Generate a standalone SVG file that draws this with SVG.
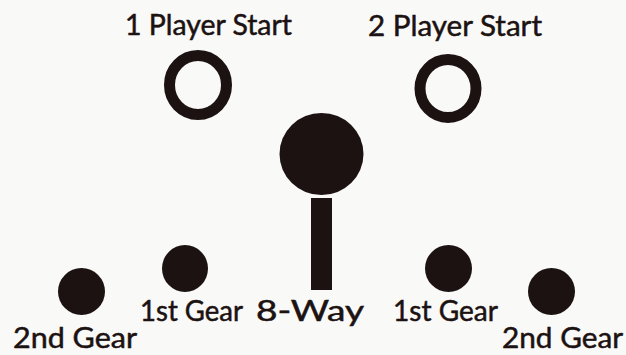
<svg xmlns="http://www.w3.org/2000/svg" width="626" height="355" viewBox="0 0 626 355">
<style>
.lbl{font-family:Lato,"Open Sans","Liberation Sans",sans-serif;font-size:28px;fill:#1c1212;stroke:#1c1212;stroke-width:0.5}
.ring{fill:none;stroke:#1c1212;stroke-width:11}
.dot{fill:#1c1212}
</style>
<rect width="626" height="355" fill="#f9f9f8"/>
<g id="connectors"/>
<g id="p1start">
<ellipse class="ring" cx="198" cy="85" rx="28.5" ry="29.5"/>
<text class="lbl" x="125" y="35" textLength="167" lengthAdjust="spacingAndGlyphs" style="font-size:29px">1 Player Start</text>
</g>
<g id="p2start">
<ellipse class="ring" cx="448" cy="88.5" rx="28" ry="29"/>
<text class="lbl" x="368" y="36" textLength="174" lengthAdjust="spacingAndGlyphs" style="font-size:29px">2 Player Start</text>
</g>
<g id="joystick">
<ellipse class="dot" cx="321.5" cy="154" rx="42" ry="41"/>
<rect class="dot" x="311" y="198" width="21" height="92"/>
<text class="lbl" x="256" y="321" textLength="108" lengthAdjust="spacingAndGlyphs">8-Way</text>
</g>
<g id="gear1-left">
<ellipse class="dot" cx="185" cy="268.5" rx="23" ry="23.5"/>
<text class="lbl" x="140" y="321" textLength="103" lengthAdjust="spacingAndGlyphs">1st Gear</text>
</g>
<g id="gear2-left">
<ellipse class="dot" cx="81.5" cy="291.5" rx="23.5" ry="23.5"/>
<text class="lbl" x="13" y="348" textLength="124" lengthAdjust="spacingAndGlyphs">2nd Gear</text>
</g>
<g id="gear1-right">
<ellipse class="dot" cx="448.5" cy="268.5" rx="23.5" ry="23.5"/>
<text class="lbl" x="393" y="321" textLength="105" lengthAdjust="spacingAndGlyphs">1st Gear</text>
</g>
<g id="gear2-right">
<ellipse class="dot" cx="551.5" cy="291.5" rx="23.5" ry="23.5"/>
<text class="lbl" x="502" y="348" textLength="121" lengthAdjust="spacingAndGlyphs">2nd Gear</text>
</g>
</svg>
